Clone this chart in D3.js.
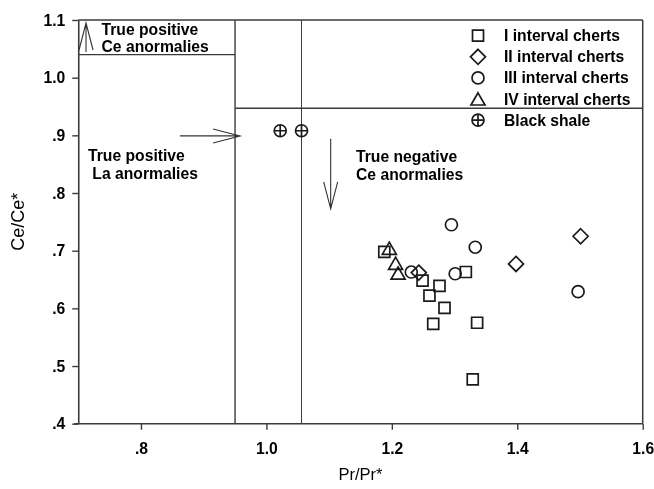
<!DOCTYPE html>
<html>
<head>
<meta charset="utf-8">
<script src="https://cdn.jsdelivr.net/npm/d3@7"></script>
<style>
  html, body { margin: 0; padding: 0; background: #fff; }
  svg { display: block; will-change: transform; }
  text { font-family: Arial, "Liberation Sans", sans-serif; fill: #000; }
</style>
</head>
<body>
<div id="chart"></div>
<script>
// ---- data ----
const xTicks = [0.8, 1.0, 1.2, 1.4, 1.6];
const xTickLabels = [".8", "1.0", "1.2", "1.4", "1.6"];
const yTicks = [0.4, 0.5, 0.6, 0.7, 0.8, 0.9, 1.0, 1.1];
const yTickLabels = [".4", ".5", ".6", ".7", ".8", ".9", "1.0", "1.1"];

const seriesNames = ["I interval cherts", "II interval cherts", "III interval cherts", "IV interval cherts", "Black shale"];
const seriesShapes = ["square", "diamond", "circle", "triangle", "crosscircle"];

const interval1 = [[1.188, 0.698], [1.249, 0.648], [1.276, 0.639], [1.260, 0.622], [1.318, 0.663],
                   [1.284, 0.601], [1.266, 0.573], [1.336, 0.575], [1.329, 0.477]];
const interval2 = [[1.243, 0.662], [1.398, 0.677], [1.501, 0.725]];
const interval3 = [[1.231, 0.663], [1.301, 0.660], [1.333, 0.706], [1.295, 0.745], [1.497, 0.629]];
const interval4 = [[1.196, 0.704], [1.206, 0.678], [1.210, 0.661]];
const blackShale = [[1.022, 0.908], [1.056, 0.908]];
const seriesData = [interval1, interval2, interval3, interval4, blackShale];

// reference boundary lines [x1, y1, x2, y2] in data units
const refLines = [[0.95, 0.4, 0.95, 1.1], [1.056, 0.4, 1.056, 1.1], [0.7, 1.04, 0.95, 1.04], [0.95, 0.947, 1.6, 0.947]];
// arrows [xFrom, yFrom, xTip, yTip] in data units
const arrows = [[0.7124, 1.0445, 0.7124, 1.0948], [0.862, 0.899, 0.958, 0.899], [1.1025, 0.894, 1.1025, 0.7725]];
const annotations = [
  ["True positive", "Ce anormalies"],
  ["True positive", " La anormalies"],
  ["True negative", "Ce anormalies"]
];

// ---- layout ----
const W = 654, H = 489;
const L = 78.25, R = 642.7, T = 20, B = 423.7;
const FS = 15.7;
const svg = d3.select("#chart").append("svg").attr("width", W).attr("height", H);
const x = d3.scaleLinear().domain([0.7, 1.6]).range([L, R]);
const y = d3.scaleLinear().domain([0.4, 1.1]).range([B, T]);
const lineColor = "#3a3a3a";

// reference lines
svg.selectAll("line.ref").data(refLines).enter().append("line")
  .attr("x1", d => x(d[0])).attr("y1", d => y(d[1]))
  .attr("x2", d => x(d[2])).attr("y2", d => y(d[3]))
  .attr("stroke", lineColor).attr("stroke-width", (d, i) => i === 1 ? 1 : 1.4);

// frame top & right
svg.append("line").attr("x1", L).attr("x2", R).attr("y1", T).attr("y2", T).attr("stroke", lineColor).attr("stroke-width", 1.5);
svg.append("line").attr("x1", R).attr("x2", R).attr("y1", T).attr("y2", B).attr("stroke", lineColor).attr("stroke-width", 1.5);

// axes
const fmtX = d => xTickLabels[xTicks.indexOf(d)];
const fmtY = d => yTickLabels[yTicks.findIndex(v => Math.abs(v - d) < 1e-9)];
const xAxis = svg.append("g").attr("transform", `translate(0,${B})`)
  .call(d3.axisBottom(x).tickValues(xTicks).tickFormat(fmtX).tickSize(6).tickPadding(13).tickSizeOuter(0));
const yAxis = svg.append("g").attr("transform", `translate(${L},0)`)
  .call(d3.axisLeft(y).tickValues(yTicks).tickFormat(fmtY).tickSize(6).tickPadding(7).tickSizeOuter(0));
[xAxis, yAxis].forEach(g => {
  g.select(".domain").attr("stroke", lineColor).attr("stroke-width", 1.6);
  g.selectAll(".tick line").attr("stroke", lineColor).attr("stroke-width", 1.4);
  g.selectAll(".tick text").attr("font-family", "Arial, 'Liberation Sans', sans-serif")
    .attr("font-size", FS).attr("font-weight", "bold").attr("fill", "#000");
});
xAxis.select(".domain").attr("d", `M${L - 4},0H${R}`);

// axis titles
svg.append("text").attr("x", (L + R) / 2).attr("y", 480).attr("text-anchor", "middle")
  .attr("font-size", 16.5).text("Pr/Pr*");
svg.append("text").attr("transform", `translate(24,${(T + B) / 2}) rotate(-90)`).attr("text-anchor", "middle")
  .attr("font-size", 18).text("Ce/Ce*");

// symbols
function symbolPath(shape) {
  switch (shape) {
    case "square": return "M-5.5,-5.5H5.5V5.5H-5.5Z";
    case "diamond": return "M0,-7.5L7.5,0L0,7.5L-7.5,0Z";
    case "circle": return "M6,0A6,6 0 1,1 -6,0A6,6 0 1,1 6,0Z";
    case "triangle": return "M0,-6.2L7,6L-7,6Z";
    case "crosscircle": return "M6,0A6,6 0 1,1 -6,0A6,6 0 1,1 6,0ZM-6,0H6M0,-6V6";
  }
}
seriesData.forEach((pts, si) => {
  svg.append("g").selectAll("path").data(pts).enter().append("path")
    .attr("transform", d => `translate(${x(d[0])},${y(d[1])})`)
    .attr("d", symbolPath(seriesShapes[si]))
    .attr("fill", "none").attr("stroke", "#1a1a1a").attr("stroke-width", 1.7);
});

// arrows with open heads
const headLen = 27, headHalf = 7;
arrows.forEach(a => {
  const x1 = x(a[0]), y1 = y(a[1]), x2 = x(a[2]), y2 = y(a[3]);
  const ang = Math.atan2(y2 - y1, x2 - x1);
  const bx = x2 - headLen * Math.cos(ang), by = y2 - headLen * Math.sin(ang);
  const px = -Math.sin(ang) * headHalf, py = Math.cos(ang) * headHalf;
  svg.append("path")
    .attr("d", `M${x1},${y1}L${x2},${y2}M${bx + px},${by + py}L${x2},${y2}L${bx - px},${by - py}`)
    .attr("fill", "none").attr("stroke", "#333").attr("stroke-width", 1.1);
});

// annotations
const annPos = [[101.5, 34.5, 52.3], [88, 161, 179], [356, 162, 180]];
annotations.forEach((lines, i) => {
  const p = annPos[i];
  const t = svg.append("text").attr("font-size", FS).attr("font-weight", "bold").attr("xml:space", "preserve");
  t.append("tspan").attr("x", p[0]).attr("y", p[1]).text(lines[0]);
  t.append("tspan").attr("x", p[0]).attr("y", p[2]).text(lines[1]);
});

// legend
const legX = 478, legTextX = 504, legY0 = 35.7, legStep = 21.1;
const leg = svg.append("g");
seriesNames.forEach((name, i) => {
  const cy = legY0 + i * legStep;
  leg.append("path").attr("transform", `translate(${legX},${cy})`)
    .attr("d", symbolPath(seriesShapes[i]))
    .attr("fill", "none").attr("stroke", "#1a1a1a").attr("stroke-width", 1.7);
  leg.append("text").attr("x", legTextX).attr("y", cy + 5.5)
    .attr("font-size", FS).attr("font-weight", "bold").text(name);
});
</script>
</body>
</html>
